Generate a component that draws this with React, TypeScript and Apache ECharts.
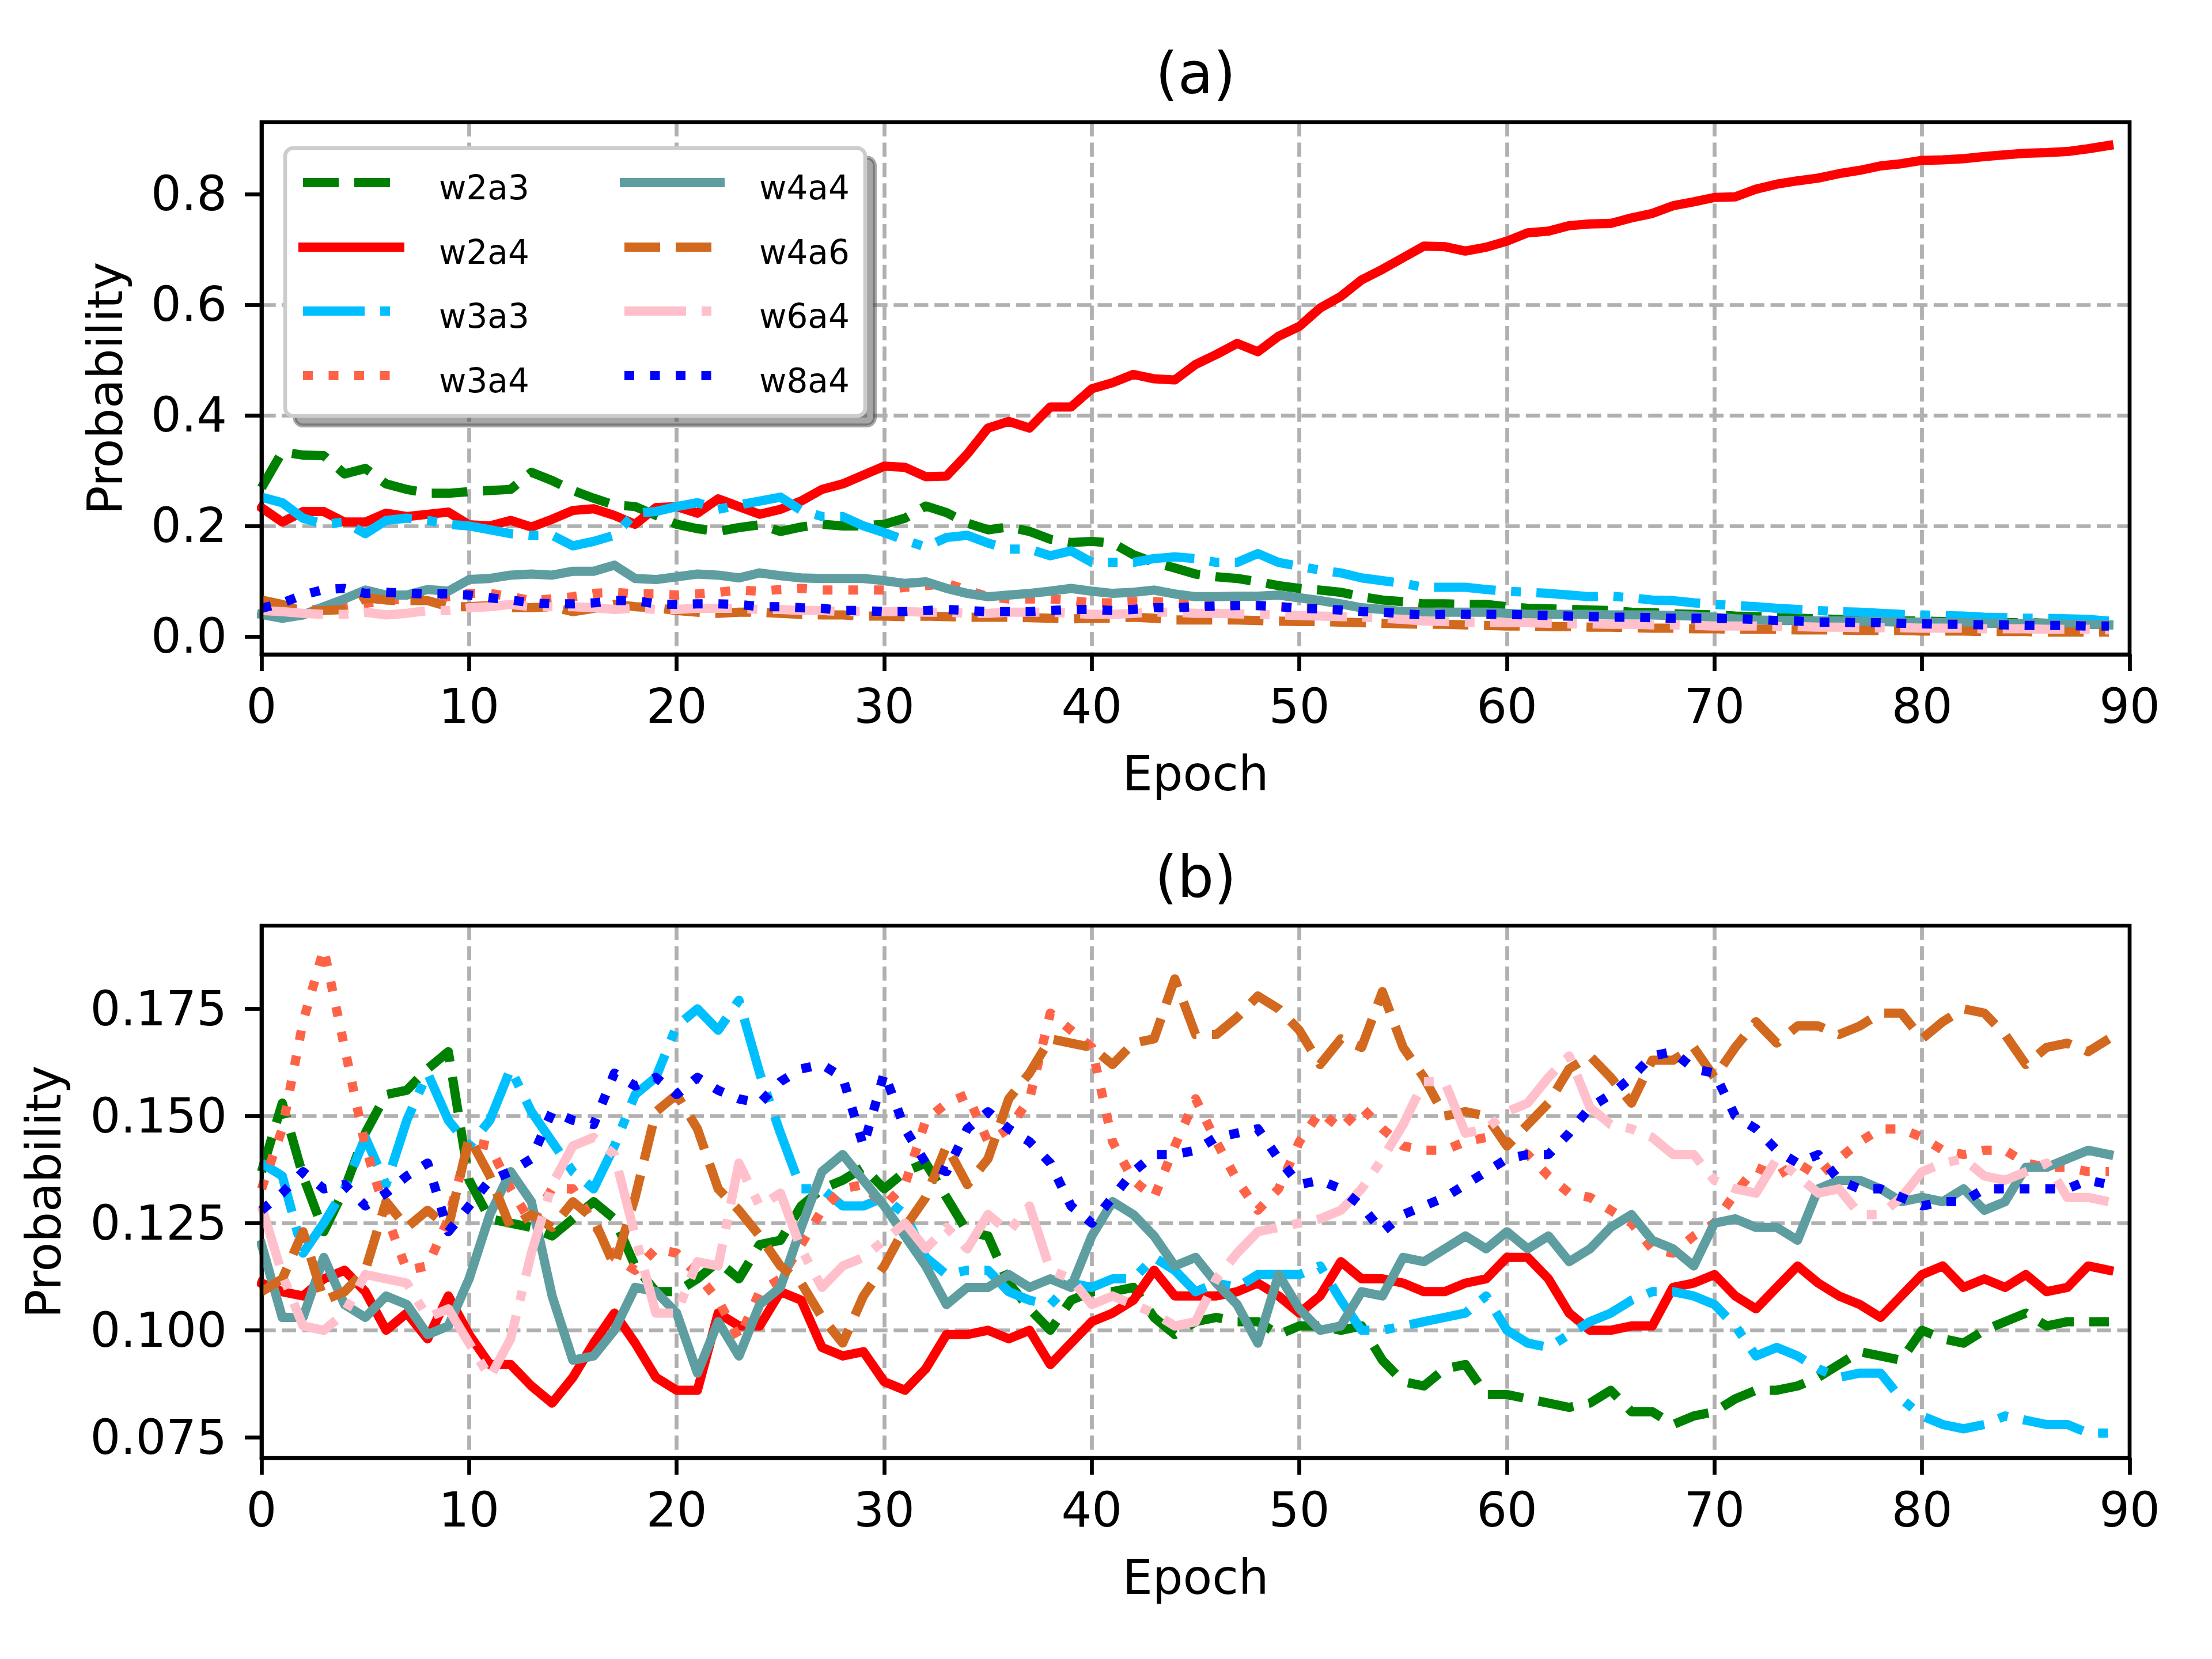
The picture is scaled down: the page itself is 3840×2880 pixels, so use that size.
import React, { useEffect, useRef } from "react";
import * as echarts from "echarts";

const FONT = "DejaVu Sans";

// ---------- data ----------
const epochs = Array.from({ length: 90 }, (_, i) => i);
const xTickStep = 10;
const seriesNames = ["w2a3", "w2a4", "w3a3", "w3a4", "w4a4", "w4a6", "w6a4", "w8a4"];
const seriesColors = ["#008000", "#ff0000", "#00bfff", "#ff6347", "#5f9ea0", "#d2691e", "#ffc0cb", "#0000ff"];
const seriesStyles = ["dashed", "solid", "dashdot", "dotted", "solid", "dashed", "dashdot", "dotted"];

const yTicksA = [0, 0.2, 0.4, 0.6, 0.8];
const yTicksB = [0.075, 0.1, 0.125, 0.15, 0.175];

// panel (a)
const aW2a3 = [0.269,0.334,0.328,0.327,0.294,0.304,0.276,0.266,0.259,0.259,
  0.262,0.264,0.266,0.297,0.282,0.264,0.250,0.238,0.235,0.219,
  0.203,0.195,0.190,0.197,0.202,0.190,0.198,0.203,0.200,0.200,
  0.203,0.214,0.236,0.224,0.205,0.193,0.198,0.190,0.176,0.170,
  0.172,0.169,0.148,0.134,0.124,0.113,0.108,0.105,0.099,0.092,
  0.087,0.084,0.080,0.072,0.066,0.063,0.059,0.059,0.058,0.058,
  0.054,0.051,0.050,0.049,0.048,0.047,0.044,0.043,0.041,0.040,
  0.039,0.037,0.036,0.034,0.033,0.032,0.031,0.030,0.029,0.028,
  0.028,0.027,0.026,0.026,0.025,0.025,0.024,0.024,0.023,0.023];
const aW2a4 = [0.233,0.207,0.226,0.226,0.207,0.207,0.223,0.217,0.221,0.225,
  0.202,0.200,0.210,0.198,0.212,0.228,0.231,0.219,0.203,0.233,
  0.235,0.223,0.249,0.235,0.221,0.230,0.245,0.266,0.276,0.292,
  0.308,0.306,0.289,0.290,0.330,0.377,0.389,0.377,0.415,0.415,
  0.448,0.459,0.474,0.466,0.464,0.492,0.510,0.530,0.515,0.543,
  0.561,0.594,0.615,0.645,0.664,0.685,0.706,0.705,0.697,0.704,
  0.715,0.730,0.733,0.743,0.746,0.747,0.757,0.765,0.779,0.786,
  0.794,0.795,0.809,0.818,0.824,0.829,0.837,0.843,0.851,0.855,
  0.861,0.862,0.864,0.868,0.871,0.874,0.875,0.877,0.882,0.888];
const aW3a3 = [0.252,0.242,0.214,0.203,0.207,0.186,0.210,0.214,0.210,0.203,
  0.200,0.193,0.186,0.183,0.183,0.164,0.172,0.183,0.223,0.226,
  0.235,0.242,0.230,0.238,0.245,0.252,0.228,0.217,0.217,0.200,
  0.188,0.174,0.162,0.179,0.183,0.169,0.158,0.158,0.146,0.155,
  0.134,0.134,0.134,0.141,0.144,0.141,0.134,0.134,0.150,0.134,
  0.127,0.120,0.115,0.106,0.101,0.096,0.089,0.089,0.089,0.085,
  0.082,0.080,0.078,0.075,0.072,0.073,0.070,0.066,0.065,0.061,
  0.058,0.056,0.054,0.051,0.049,0.047,0.045,0.044,0.042,0.040,
  0.039,0.038,0.037,0.035,0.034,0.033,0.033,0.032,0.031,0.028];
const aW3a4 = [0.055,0.050,0.048,0.050,0.055,0.060,0.065,0.068,0.070,0.072,
  0.078,0.078,0.072,0.065,0.068,0.072,0.078,0.080,0.077,0.077,
  0.075,0.077,0.080,0.084,0.082,0.085,0.087,0.084,0.084,0.084,
  0.084,0.089,0.092,0.096,0.084,0.072,0.068,0.068,0.068,0.065,
  0.061,0.061,0.063,0.063,0.061,0.058,0.057,0.056,0.056,0.054,
  0.052,0.051,0.050,0.048,0.047,0.046,0.044,0.044,0.042,0.041,
  0.040,0.040,0.038,0.037,0.036,0.035,0.034,0.034,0.032,0.031,
  0.030,0.030,0.028,0.027,0.026,0.025,0.025,0.024,0.023,0.022,
  0.022,0.021,0.020,0.020,0.019,0.019,0.018,0.018,0.017,0.017];
const aW4a4 = [0.040,0.033,0.039,0.054,0.068,0.084,0.075,0.075,0.085,0.082,
  0.103,0.105,0.111,0.113,0.111,0.118,0.118,0.129,0.105,0.103,
  0.108,0.113,0.111,0.106,0.115,0.110,0.106,0.105,0.105,0.105,
  0.101,0.096,0.099,0.087,0.078,0.072,0.075,0.078,0.082,0.087,
  0.082,0.078,0.080,0.084,0.077,0.072,0.072,0.073,0.073,0.075,
  0.070,0.065,0.059,0.052,0.049,0.045,0.044,0.044,0.044,0.044,
  0.042,0.040,0.040,0.040,0.040,0.039,0.039,0.039,0.038,0.037,
  0.035,0.032,0.030,0.029,0.029,0.028,0.028,0.027,0.027,0.026,
  0.026,0.025,0.025,0.024,0.024,0.023,0.023,0.022,0.022,0.021];
const aW4a6 = [0.066,0.058,0.045,0.047,0.049,0.070,0.066,0.065,0.065,0.054,
  0.054,0.056,0.052,0.052,0.054,0.045,0.051,0.058,0.054,0.052,
  0.047,0.044,0.042,0.044,0.044,0.042,0.040,0.039,0.039,0.037,
  0.037,0.036,0.037,0.036,0.035,0.035,0.035,0.034,0.033,0.032,
  0.033,0.033,0.035,0.033,0.030,0.030,0.030,0.030,0.029,0.028,
  0.027,0.027,0.026,0.025,0.024,0.023,0.022,0.022,0.021,0.020,
  0.019,0.019,0.018,0.018,0.017,0.017,0.016,0.015,0.015,0.014,
  0.014,0.013,0.013,0.013,0.012,0.012,0.012,0.011,0.011,0.011,
  0.010,0.010,0.010,0.009,0.009,0.009,0.008,0.008,0.008,0.008];
const aW6a4 = [0.047,0.045,0.042,0.040,0.040,0.044,0.039,0.042,0.047,0.047,
  0.052,0.054,0.058,0.054,0.054,0.054,0.052,0.049,0.051,0.049,
  0.049,0.051,0.051,0.051,0.049,0.049,0.047,0.047,0.045,0.045,
  0.045,0.045,0.044,0.044,0.042,0.042,0.044,0.044,0.044,0.042,
  0.040,0.040,0.042,0.044,0.044,0.042,0.042,0.041,0.040,0.039,
  0.038,0.037,0.036,0.035,0.033,0.031,0.028,0.027,0.026,0.026,
  0.025,0.025,0.024,0.023,0.023,0.022,0.022,0.021,0.021,0.020,
  0.019,0.019,0.019,0.018,0.018,0.017,0.017,0.016,0.016,0.016,
  0.015,0.015,0.015,0.014,0.014,0.014,0.013,0.013,0.013,0.012];
const aW8a4 = [0.051,0.061,0.075,0.085,0.087,0.078,0.080,0.078,0.077,0.077,
  0.075,0.070,0.066,0.061,0.059,0.059,0.061,0.065,0.065,0.059,
  0.058,0.059,0.059,0.058,0.054,0.054,0.052,0.051,0.047,0.047,
  0.045,0.045,0.047,0.049,0.047,0.045,0.045,0.045,0.047,0.049,
  0.049,0.047,0.049,0.052,0.052,0.054,0.055,0.056,0.056,0.054,
  0.051,0.050,0.048,0.045,0.044,0.041,0.039,0.040,0.040,0.040,
  0.040,0.039,0.038,0.037,0.036,0.035,0.035,0.034,0.033,0.033,
  0.033,0.032,0.031,0.029,0.028,0.026,0.026,0.025,0.025,0.024,
  0.023,0.022,0.022,0.021,0.021,0.020,0.020,0.020,0.019,0.019];

// panel (b)
const bW2a3 = [0.137,0.153,0.136,0.123,0.133,0.146,0.155,0.156,0.161,0.165,
  0.135,0.126,0.125,0.124,0.122,0.126,0.130,0.126,0.115,0.109,
  0.109,0.112,0.116,0.112,0.120,0.121,0.129,0.133,0.135,0.138,
  0.133,0.137,0.139,0.131,0.123,0.122,0.111,0.105,0.100,0.107,
  0.109,0.109,0.110,0.103,0.099,0.102,0.103,0.102,0.102,0.099,
  0.101,0.101,0.100,0.101,0.093,0.088,0.087,0.091,0.092,0.085,
  0.085,0.084,0.083,0.082,0.083,0.086,0.081,0.081,0.078,0.080,
  0.081,0.084,0.086,0.086,0.087,0.089,0.092,0.095,0.094,0.093,
  0.100,0.098,0.097,0.100,0.102,0.104,0.101,0.102,0.102,0.102];
const bW2a4 = [0.111,0.109,0.108,0.112,0.114,0.109,0.100,0.104,0.098,0.108,
  0.099,0.092,0.092,0.087,0.083,0.089,0.097,0.104,0.097,0.089,
  0.086,0.086,0.104,0.101,0.101,0.109,0.107,0.096,0.094,0.095,
  0.088,0.086,0.091,0.099,0.099,0.100,0.098,0.100,0.092,0.097,
  0.102,0.104,0.107,0.114,0.108,0.108,0.108,0.109,0.111,0.108,
  0.104,0.108,0.116,0.112,0.112,0.111,0.109,0.109,0.111,0.112,
  0.117,0.117,0.112,0.104,0.100,0.100,0.101,0.101,0.110,0.111,
  0.113,0.108,0.105,0.110,0.115,0.111,0.108,0.106,0.103,0.108,
  0.113,0.115,0.110,0.112,0.110,0.113,0.109,0.110,0.115,0.114];
const bW3a3 = [0.139,0.136,0.118,0.125,0.133,0.145,0.134,0.149,0.160,0.149,
  0.143,0.149,0.161,0.151,0.144,0.137,0.133,0.143,0.155,0.159,
  0.171,0.175,0.170,0.177,0.160,0.146,0.133,0.133,0.129,0.129,
  0.131,0.127,0.117,0.113,0.114,0.114,0.109,0.107,0.106,0.111,
  0.110,0.112,0.112,0.117,0.114,0.109,0.111,0.110,0.113,0.113,
  0.113,0.115,0.107,0.100,0.100,0.101,0.102,0.103,0.104,0.108,
  0.100,0.097,0.096,0.099,0.102,0.104,0.107,0.109,0.109,0.108,
  0.106,0.101,0.094,0.096,0.094,0.091,0.089,0.090,0.090,0.084,
  0.080,0.078,0.077,0.078,0.080,0.079,0.078,0.078,0.076,0.076];
const bW3a4 = [0.133,0.147,0.172,0.189,0.166,0.143,0.127,0.114,0.115,0.126,
  0.144,0.143,0.133,0.125,0.133,0.133,0.125,0.117,0.114,0.119,
  0.118,0.113,0.107,0.098,0.109,0.112,0.120,0.128,0.133,0.134,
  0.129,0.134,0.149,0.153,0.155,0.144,0.147,0.154,0.174,0.170,
  0.166,0.144,0.135,0.131,0.143,0.154,0.144,0.135,0.128,0.133,
  0.144,0.151,0.147,0.152,0.147,0.143,0.142,0.142,0.144,0.145,
  0.144,0.141,0.136,0.132,0.131,0.128,0.125,0.119,0.118,0.122,
  0.125,0.132,0.138,0.136,0.139,0.136,0.140,0.144,0.147,0.147,
  0.145,0.142,0.141,0.142,0.142,0.139,0.138,0.138,0.137,0.137];
const bW4a4 = [0.120,0.103,0.103,0.117,0.106,0.103,0.108,0.106,0.099,0.101,
  0.112,0.127,0.137,0.130,0.108,0.093,0.094,0.100,0.110,0.109,
  0.104,0.090,0.102,0.094,0.106,0.110,0.124,0.137,0.141,0.135,
  0.129,0.122,0.115,0.106,0.110,0.110,0.113,0.110,0.112,0.110,
  0.122,0.130,0.127,0.122,0.115,0.117,0.111,0.106,0.097,0.113,
  0.105,0.100,0.101,0.109,0.108,0.117,0.116,0.119,0.122,0.119,
  0.123,0.119,0.122,0.116,0.119,0.124,0.127,0.121,0.119,0.115,
  0.125,0.126,0.124,0.124,0.121,0.133,0.135,0.135,0.133,0.130,
  0.131,0.130,0.133,0.128,0.130,0.138,0.138,0.140,0.142,0.141];
const bW4a6 = [0.109,0.112,0.123,0.107,0.109,0.114,0.130,0.124,0.128,0.124,
  0.145,0.136,0.124,0.127,0.124,0.130,0.126,0.115,0.131,0.151,
  0.155,0.147,0.133,0.128,0.122,0.115,0.111,0.103,0.097,0.108,
  0.115,0.124,0.131,0.143,0.134,0.140,0.154,0.160,0.168,0.167,
  0.166,0.162,0.167,0.168,0.182,0.169,0.169,0.173,0.178,0.175,
  0.170,0.162,0.168,0.166,0.179,0.166,0.159,0.150,0.151,0.150,
  0.143,0.148,0.153,0.161,0.164,0.159,0.153,0.163,0.163,0.166,
  0.159,0.166,0.172,0.167,0.171,0.171,0.169,0.171,0.174,0.174,
  0.168,0.172,0.175,0.174,0.169,0.162,0.166,0.167,0.165,0.168];
const bW6a4 = [0.129,0.113,0.101,0.100,0.104,0.113,0.112,0.111,0.103,0.105,
  0.097,0.089,0.098,0.118,0.134,0.143,0.145,0.141,0.122,0.104,
  0.104,0.116,0.115,0.139,0.129,0.132,0.119,0.110,0.115,0.117,
  0.121,0.125,0.119,0.124,0.119,0.127,0.123,0.129,0.114,0.112,
  0.106,0.108,0.106,0.104,0.101,0.102,0.112,0.118,0.123,0.124,
  0.125,0.126,0.128,0.133,0.140,0.148,0.158,0.158,0.146,0.147,
  0.151,0.153,0.159,0.164,0.152,0.148,0.147,0.145,0.141,0.141,
  0.135,0.133,0.132,0.140,0.136,0.132,0.133,0.127,0.127,0.131,
  0.137,0.139,0.140,0.136,0.135,0.137,0.139,0.131,0.131,0.130];
const bW8a4 = [0.128,0.132,0.137,0.133,0.134,0.129,0.132,0.136,0.139,0.123,
  0.129,0.135,0.137,0.140,0.151,0.149,0.148,0.160,0.157,0.159,
  0.155,0.159,0.156,0.154,0.153,0.158,0.161,0.162,0.159,0.143,
  0.160,0.147,0.139,0.137,0.147,0.151,0.147,0.144,0.139,0.129,
  0.125,0.131,0.137,0.141,0.141,0.142,0.145,0.146,0.147,0.140,
  0.134,0.135,0.133,0.129,0.123,0.127,0.129,0.131,0.134,0.137,
  0.140,0.141,0.141,0.146,0.152,0.155,0.159,0.164,0.165,0.161,
  0.160,0.150,0.147,0.142,0.139,0.141,0.135,0.133,0.133,0.131,
  0.129,0.130,0.130,0.133,0.133,0.133,0.133,0.133,0.135,0.134];

const panelA = [aW2a3, aW2a4, aW3a3, aW3a4, aW4a4, aW4a6, aW6a4, aW8a4];
const panelB = [bW2a3, bW2a4, bW3a3, bW3a4, bW4a4, bW4a6, bW6a4, bW8a4];

// ---------- layout / style ----------
const W = 3840;
const H = 2880;
const LW = 16; // line width
const SPINE = 6.7;
const GRID_L = 454;
const GRID_W = 3243;
const GRID_H = 924;
const TOP_A = 212;
const TOP_B = 1607;
const Y_A: [number, number] = [-0.0323, 0.9302];
const Y_B: [number, number] = [0.0702, 0.1944];

function dashOf(style: string): any {
  if (style === "dashed") return [62, 27];
  if (style === "dashdot") return [107, 27, 17, 27];
  if (style === "dotted") return [17, 27.5];
  return "solid";
}

const gridLineStyle = { color: "#b0b0b0", width: SPINE, type: [24.7, 10.7] };
const textBase = { fontFamily: FONT, color: "#000" };

function makeX(gridIndex: number) {
  return {
    type: "value",
    gridIndex,
    min: 0,
    max: 90,
    interval: xTickStep,
    axisLine: { show: true, onZero: false, lineStyle: { color: "#000", width: SPINE } },
    axisTick: { show: true, inside: false, length: 29, lineStyle: { color: "#000", width: SPINE } },
    axisLabel: { show: true, margin: 49, fontSize: 83, ...textBase },
    splitLine: { show: true, showMinLine: false, showMaxLine: false, lineStyle: gridLineStyle },
    name: "Epoch",
    nameLocation: "middle",
    nameGap: 166,
    nameTextStyle: { fontSize: 83, ...textBase },
  };
}

function makeY(gridIndex: number, range: [number, number], ticks: number[], decimals: number, nameGap: number) {
  return {
    type: "value",
    gridIndex,
    min: range[0],
    max: range[1],
    axisLine: { show: true, onZero: false, lineStyle: { color: "#000", width: SPINE } },
    axisTick: { show: true, inside: false, length: 29, customValues: ticks, lineStyle: { color: "#000", width: SPINE } },
    axisLabel: {
      show: true,
      margin: 60,
      fontSize: 83,
      customValues: ticks,
      formatter: (v: number) => v.toFixed(decimals),
      ...textBase,
    },
    splitLine: { show: true, showMinLine: false, showMaxLine: false, lineStyle: gridLineStyle },
    name: "Probability",
    nameLocation: "middle",
    nameGap,
    nameTextStyle: { fontSize: 83, ...textBase },
  };
}

function buildSeries(panel: number[][], idx: number) {
  return panel.map((vals, k) => ({
    type: "line",
    name: seriesNames[k],
    xAxisIndex: idx,
    yAxisIndex: idx,
    data: epochs.map((e, i) => [e, vals[i]]),
    showSymbol: false,
    symbol: "none",
    silent: true,
    emphasis: { disabled: true },
    lineStyle: {
      color: seriesColors[k],
      width: LW,
      type: dashOf(seriesStyles[k]),
      cap: seriesStyles[k] === "solid" ? "square" : "butt",
      join: "round",
    },
  }));
}

function legendGraphic() {
  const box = { x: 495, y: 257, w: 1007, h: 465 };
  const rowsY = [317, 429, 540, 652];
  const textDy = 9;
  const colX = [
    { x1: 526, x2: 694, tx: 762 },
    { x1: 1084, x2: 1250, tx: 1318 },
  ];
  const els: any[] = [
    {
      type: "rect",
      z: 100,
      shape: { x: box.x + 16.7, y: box.y + 16.7, width: box.w, height: box.h, r: 14 },
      style: { fill: "rgba(77,77,77,0.5)", stroke: "rgba(77,77,77,0.5)", lineWidth: SPINE },
    },
    {
      type: "rect",
      z: 101,
      shape: { x: box.x, y: box.y, width: box.w, height: box.h, r: 14 },
      style: { fill: "#ffffff", stroke: "#cccccc", lineWidth: SPINE },
    },
  ];
  seriesNames.forEach((name, k) => {
    const col = colX[Math.floor(k / 4)];
    const y = rowsY[k % 4];
    const st = seriesStyles[k];
    const d = dashOf(st);
    els.push({
      type: "line",
      z: 102,
      shape: { x1: col.x1, y1: y, x2: col.x2, y2: y },
      style: {
        stroke: seriesColors[k],
        lineWidth: LW,
        lineDash: d === "solid" ? null : d,
        lineCap: st === "solid" ? "square" : "butt",
      },
    });
    els.push({
      type: "text",
      z: 102,
      x: col.tx,
      y: y + textDy,
      style: { text: name, fontSize: 58, fontFamily: FONT, fill: "#000", align: "left", verticalAlign: "middle" },
    });
  });
  return els;
}

function spine(top: number) {
  return {
    type: "rect",
    z: 90,
    shape: { x: GRID_L, y: top, width: GRID_W, height: GRID_H },
    style: { fill: "none", stroke: "#000", lineWidth: SPINE },
  };
}

function titleText(text: string, y: number) {
  return {
    type: "text",
    z: 90,
    x: GRID_L + GRID_W / 2,
    y,
    style: { text, fontSize: 100, fontFamily: FONT, fill: "#000", align: "center", verticalAlign: "middle" },
  };
}

export default function App() {
  const ref = useRef<HTMLDivElement>(null);
  useEffect(() => {
    if (!ref.current) return;
    const chart = echarts.init(ref.current, undefined, { renderer: "svg", width: W, height: H });
    const option: any = {
      animation: false,
      backgroundColor: "#ffffff",
      textStyle: { fontFamily: FONT },
      grid: [
        { left: GRID_L, top: TOP_A, width: GRID_W, height: GRID_H, show: false, containLabel: false, outerBoundsMode: "none" },
        { left: GRID_L, top: TOP_B, width: GRID_W, height: GRID_H, show: false, containLabel: false, outerBoundsMode: "none" },
      ],
      xAxis: [makeX(0), makeX(1)],
      yAxis: [makeY(0, Y_A, yTicksA, 1, 229), makeY(1, Y_B, yTicksB, 3, 336)],
      series: [...buildSeries(panelA, 0), ...buildSeries(panelB, 1)],
      graphic: [
        spine(TOP_A),
        spine(TOP_B),
        titleText("(a)", 127),
        titleText("(b)", 1522),
        ...legendGraphic(),
      ],
    };
    chart.setOption(option);
    return () => chart.dispose();
  }, []);
  return (
    <div
      ref={ref}
      style={{ position: "absolute", left: 0, top: 0, width: W, height: H, background: "#fff" }}
    />
  );
}
